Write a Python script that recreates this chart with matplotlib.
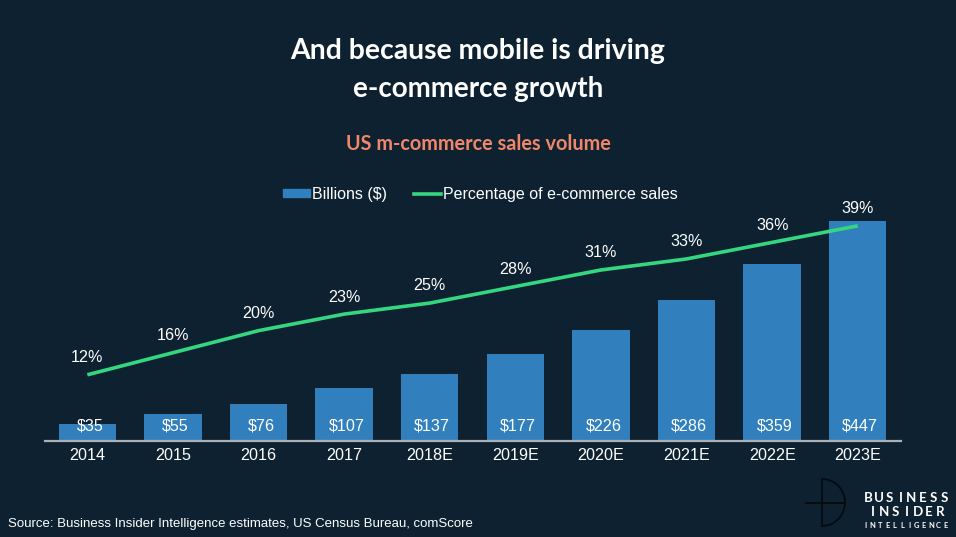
import matplotlib
matplotlib.use("Agg")
import matplotlib.pyplot as plt
from matplotlib.lines import Line2D
from matplotlib.patches import Patch, Arc

# values
years = ["2014", "2015", "2016", "2017", "2018E", "2019E", "2020E", "2021E", "2022E", "2023E"]
billions = [35, 55, 76, 107, 137, 177, 226, 286, 359, 447]
percent = [12, 16, 20, 23, 25, 28, 31, 33, 36, 39]

BG = "#0d2130"
BLUE = "#3180bd"
GREEN = "#35d680"
W, H = 956, 537

plt.rcParams["font.family"] = ["Liberation Sans", "DejaVu Sans"]

fig = plt.figure(figsize=(W / 100, H / 100), dpi=100, facecolor=BG)

# axes box in pixels: x 45-901, baseline at y=441
ax = fig.add_axes([45 / W, (H - 441) / H, 856 / W, 240 / H], facecolor="none")
x = range(len(years))
ax.bar(x, billions, width=0.67, color=BLUE, zorder=2)
ax.set_xlim(-0.495, 9.505)
ax.set_ylim(0, 488)
ax.set_xticks(list(x))
ax.set_xticklabels(years, color="white", fontsize=11.6)
ax.tick_params(axis="x", length=0, pad=5)
ax.set_yticks([])
for s in ["top", "left", "right"]:
    ax.spines[s].set_visible(False)
ax.spines["bottom"].set_color("#a9b0b6")
ax.spines["bottom"].set_linewidth(1.6)
ax.spines["bottom"].set_zorder(3)

for i, v in enumerate(billions):
    ax.text(i + 0.03, 31, f"${v}", color="white", fontsize=11.6, ha="center", va="center", zorder=4)

ax2 = ax.twinx()
ax2.set_ylim(0, 43.5)
ax2.plot(x, percent, color=GREEN, lw=2.6, solid_capstyle="butt", zorder=5)
ax2.set_yticks([])
for s in ax2.spines.values():
    s.set_visible(False)
for i, v in enumerate(percent):
    ax2.annotate(f"{v}%", (i, v), xytext=(0, 12.3), textcoords="offset points",
                 color="white", fontsize=11.6, ha="center", va="center")

# titles
fig.text(478 / W, 1 - 51 / H, "And because mobile is driving", color="white", family="Lato",
         weight="bold", fontsize=20.4, ha="center", va="center")
fig.text(478 / W, 1 - 89 / H, "e-commerce growth", color="white", family="Lato",
         weight="bold", fontsize=20, ha="center", va="center")
fig.text(478 / W, 1 - 144 / H, "US m-commerce sales volume", color="#f0876a", family="Lato",
         weight="bold", fontsize=14.3, ha="center", va="center")

# legend
handles = [Patch(color=BLUE, label="Billions ($)"), Line2D([0], [0], color=GREEN, lw=2.6, label="Percentage of e-commerce sales")]
fig.legend(handles=handles, loc="center", bbox_to_anchor=(480.5 / W, 1 - 194 / H), ncol=2, frameon=False,
           labelcolor="white", fontsize=11.5, handlelength=1.7, handleheight=0.45, handletextpad=0.12,
           columnspacing=1.7)

# source
fig.text(8 / W, 1 - 524 / H, "Source: Business Insider Intelligence estimates, US Census Bureau, comScore",
         color="white", fontsize=9.5, ha="left", va="center")

# logo, drawn on a full-figure pixel overlay
ov = fig.add_axes([0, 0, 1, 1], facecolor="none")
ov.set_xlim(0, W)
ov.set_ylim(H, 0)
ov.axis("off")
LOGO = "#05090d"
ov.plot([806, 845], [503, 503], color=LOGO, lw=1.2)
ov.plot([822, 822], [479, 526], color=LOGO, lw=1.2)
ov.add_patch(Arc((822, 502.5), 46, 47, theta1=-90, theta2=90, color=LOGO, lw=1.2))


def spaced(word, x0, x1, y, size):
    # letter-spaced wordmark
    step = (x1 - x0) / (len(word) - 1)
    for i, ch in enumerate(word):
        ov.text(x0 + i * step, y, ch, color="white", fontsize=size, weight="bold",
                ha="center", va="center", family="Lato")


spaced("BUSINESS", 868, 944, 498, 9.6)
spaced("INSIDER", 873, 940, 512, 9.6)
spaced("INTELLIGENCE", 865, 946, 526, 5.4)

fig.savefig("out.png", dpi=100, facecolor=BG)
